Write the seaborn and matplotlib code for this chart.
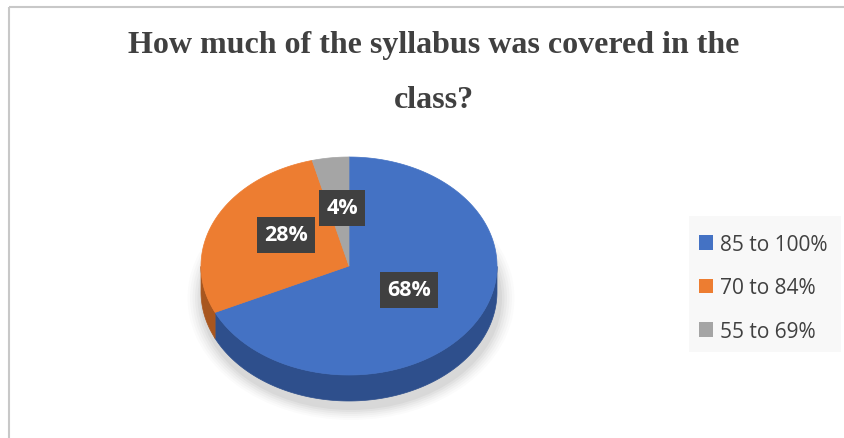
import numpy as np
import matplotlib
matplotlib.use("Agg")
import matplotlib.pyplot as plt
import seaborn as sns
from matplotlib.patches import Polygon, Ellipse, Patch, Rectangle

sns.set_theme(style="white")
plt.rcParams['font.family'] = ['Open Sans', 'DejaVu Sans']

categories = ["85 to 100%", "70 to 84%", "55 to 69%"]
values = [68, 28, 4]
labels = ["68%", "28%", "4%"]
title_lines = ["How much of the syllabus was covered in the", "class?"]

top_colors = sns.color_palette(["#4472C4", "#ED7D31", "#A5A5A5"])
side_colors = ["#2E4F8C", "#A8561F", "#767676"]

W, H = 845, 439
fig = plt.figure(figsize=(W / 100, H / 100), dpi=100)
ax = fig.add_axes([0, 0, 1, 1])
ax.set_xlim(0, W)
ax.set_ylim(H, 0)
ax.axis("off")

# chart frame (top and left edges visible)
ax.plot([9, W], [8, 8], color="#C8C8C8", lw=1.5, solid_capstyle="butt")
ax.plot([9, 9], [8, H], color="#C8C8C8", lw=1.5, solid_capstyle="butt")

# title
ax.text(434, 53, title_lines[0], ha="center", va="baseline", fontsize=23,
        fontweight="bold", family="Liberation Serif", color="#404040")
ax.text(434, 108, title_lines[1], ha="center", va="baseline", fontsize=23,
        fontweight="bold", family="Liberation Serif", color="#404040")

# pie geometry (pixel units)
cx, cy, rx, ry, depth = 349, 267, 148, 109, 26

# soft shadow
for i, a in enumerate(np.linspace(0.035, 0.015, 6)):
    ax.add_patch(Ellipse((cx + 2, cy + depth + 6), 2 * rx + 6 + 5 * i, 2 * ry + 6 + 4 * i,
                         facecolor="#000000", alpha=a, edgecolor="none", zorder=1))

def pt(t, dy=0.0):
    return cx + rx * np.cos(t), cy - ry * np.sin(t) + dy

fracs = np.array(values, dtype=float) / sum(values)
start = np.pi / 2
bounds = []
for f in fracs:
    end = start - 2 * np.pi * f
    bounds.append((start, end))
    start = end

# side walls (front half)
for (s, e), col in zip(bounds, side_colors):
    ts = np.linspace(s, e, 400)
    mask = np.sin(ts) <= 0
    if mask.sum() < 2:
        continue
    tt = ts[mask]
    x1, y1 = pt(tt)
    x2, y2 = pt(tt[::-1], depth)
    poly = np.column_stack([np.concatenate([x1, x2]), np.concatenate([y1, y2])])
    ax.add_patch(Polygon(poly, closed=True, facecolor=col, edgecolor=col, lw=0.5, zorder=2))

# top faces
for (s, e), col in zip(bounds, top_colors):
    ts = np.linspace(s, e, 300)
    x, y = pt(ts)
    poly = np.column_stack([np.concatenate([[cx], x]), np.concatenate([[cy], y])])
    ax.add_patch(Polygon(poly, closed=True, facecolor=col, edgecolor=col, lw=0.5, zorder=3))

# data labels
label_pos = [(409, 291), (286, 236), (342, 209)]
for lab, (lx, ly) in zip(labels, label_pos):
    ax.text(lx, ly, lab, ha="center", va="center", fontsize=15.5, fontweight="bold",
            color="white", zorder=5,
            bbox=dict(boxstyle="square,pad=0.35", facecolor="#404040", edgecolor="none"))

# legend
ax.add_patch(Rectangle((689, 217), 152, 136, facecolor="#F8F8F8", edgecolor="none", zorder=1))
handles = [Patch(facecolor=c, edgecolor="none") for c in top_colors]
leg = fig.legend(handles, categories, loc="upper left", bbox_to_anchor=(680 / W, 1 - 216 / H),
                 frameon=False, fontsize=15, labelcolor="#404040", handlelength=0.7,
                 handleheight=0.7, handletextpad=0.3, labelspacing=1.08)

fig.savefig("out.png", dpi=100, facecolor="white")
